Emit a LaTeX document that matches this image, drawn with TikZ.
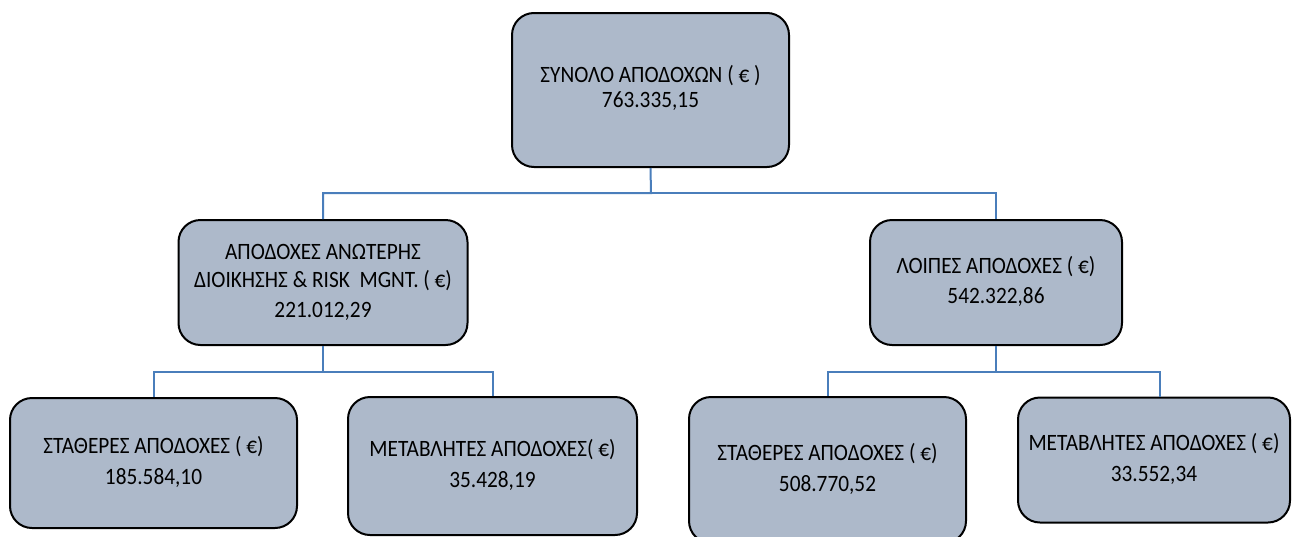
\documentclass[tikz,border=0pt]{standalone}
\usepackage{fontspec}
\usepackage{graphicx}
\setmainfont{Carlito}
\definecolor{boxfill}{RGB}{173,185,202}
\definecolor{linkblue}{RGB}{74,126,187}
\newcommand{\boxtext}[2][27.3pt]{\scalebox{1}[1.1]{\def\arraystretch{1}\setlength{\baselineskip}{#1}\begin{tabular}{@{}c@{}}#2\end{tabular}}}
\begin{document}
\begin{tikzpicture}[x=1pt,y=-1pt,
  box/.style={draw=black,line width=2pt,fill=boxfill,rounded corners=22pt,
    minimum width=#1,inner sep=0pt,align=center,
    font=\fontsize{21.3}{27.3}\selectfont},
  link/.style={draw=linkblue,line width=2pt}]
\useasboundingbox (0,0) rectangle (1293,536);
\clip (0,0) rectangle (1293,536);
\node[box=277pt,minimum height=154pt,font=\fontsize{21.3}{22.7}\selectfont] (top) at (650.5,90) {\scalebox{1}[1.1]{\begin{tabular}{@{}c@{}}ΣΥΝΟΛΟ ΑΠΟΔΟΧΩΝ ( € )\\763.335,15\end{tabular}}};
\node[box=289pt,minimum height=125pt] (ml) at (323,282.5) {\scalebox{1}[1.1]{\begin{tabular}{@{}c@{}}ΑΠΟΔΟΧΕΣ ΑΝΩΤΕΡΗΣ\\[-1pt]ΔΙΟΙΚΗΣΗΣ \& RISK\ \ MGNT. ( €)\\[0pt]221.012,29\end{tabular}}};
\node[box=252pt,minimum height=125pt] (mr) at (996,282.5) {\scalebox{1}[1.1]{\begin{tabular}{@{}c@{}}ΛΟΙΠΕΣ ΑΠΟΔΟΧΕΣ ( €)\\542.322,86\end{tabular}}};
\node[box=287pt,minimum height=130pt] (b1) at (153.5,463) {\scalebox{1}[1.1]{\begin{tabular}{@{}c@{}}ΣΤΑΘΕΡΕΣ ΑΠΟΔΟΧΕΣ ( €)\\185.584,10\end{tabular}}};
\node[box=289pt,minimum height=138pt] (b2) at (492.5,466) {\scalebox{1}[1.1]{\begin{tabular}{@{}c@{}}ΜΕΤΑΒΛΗΤΕΣ ΑΠΟΔΟΧΕΣ( €)\\35.428,19\end{tabular}}};
\node[box=277pt,minimum height=146pt] (b3) at (827.5,470) {\scalebox{1}[1.1]{\begin{tabular}{@{}c@{}}ΣΤΑΘΕΡΕΣ ΑΠΟΔΟΧΕΣ ( €)\\508.770,52\end{tabular}}};
\node[box=272pt,minimum height=125pt] (b4) at (1154,460) {\scalebox{1}[1.1]{\begin{tabular}{@{}c@{}}ΜΕΤΑΒΛΗΤΕΣ ΑΠΟΔΟΧΕΣ ( €)\\33.552,34\end{tabular}}};
\coordinate (c4) at (1160,397);
\coordinate (jt) at (651,193);
\coordinate (jl) at (323,372);
\coordinate (jr) at (996,372);
\draw[link] (top.south) -- (jt) -| (ml.north);
\draw[link] (jt) -| (mr.north);
\draw[link] (ml.south) -- (jl) -| (b1.north);
\draw[link] (jl) -| (b2.north);
\draw[link] (mr.south) -- (jr) -| (b3.north);
\draw[link] (jr) -| (c4);
\end{tikzpicture}
\end{document}
